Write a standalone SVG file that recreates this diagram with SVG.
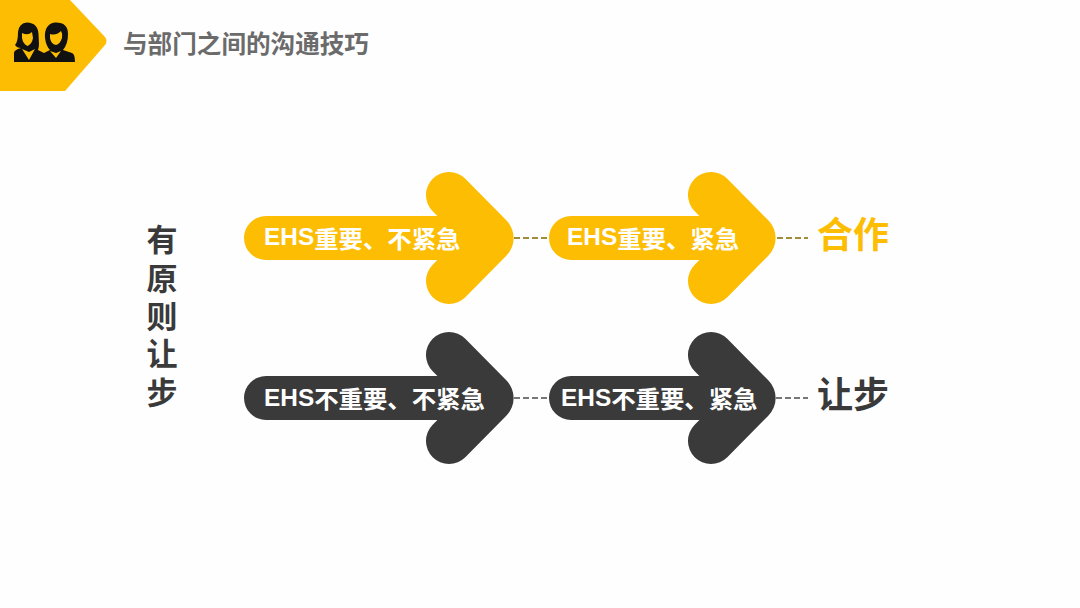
<svg xmlns="http://www.w3.org/2000/svg" width="1080" height="608" viewBox="0 0 1080 608">
<style>
text{font-family:"Liberation Sans","Noto Sans CJK SC",sans-serif;font-weight:700}
.cjk{font-family:"Noto Sans CJK SC",sans-serif;font-weight:700}
.lbl{font-size:24.4px;fill:#fff;text-anchor:start;dominant-baseline:central}
.big{font-size:36px;text-anchor:middle;dominant-baseline:central}
.side{font-size:31px;fill:#3a3a3a;text-anchor:middle;dominant-baseline:central}
.y{fill:#fdbd02}.d{fill:#3a3a3a}
.conn{stroke-width:2;stroke-dasharray:6 3;fill:none}
</style>
<defs>
<path id="long" d="M266 216H437.4L432.7 211.3A23 23 0 0 1 465.3 178.7L506.3 220.3A25 25 0 0 1 506.3 255.7L465.3 297.3A23 23 0 0 1 432.7 264.7L437.4 260H266A22 22 0 0 1 266 216Z"/>
<path id="short" d="M571 216H699.4L694.7 211.3A23 23 0 0 1 727.3 178.7L768.3 220.3A25 25 0 0 1 768.3 255.7L727.3 297.3A23 23 0 0 1 694.7 264.7L699.4 260H571A22 22 0 0 1 571 216Z"/>
</defs>
<rect width="1080" height="608" fill="#fefefe"/>
<g id="header">
<path class="y" d="M0 0H70L105 37Q108 41 105 45L65 91H0Z"/>
<g id="icon">
<path fill="#111" d="M27 22.500Q38 23 38.500 34L39 44Q39 47 38 50L44 53L46 52L50 50Q46 46 45 38Q44 24 55 22.500Q68 22 68 34Q68 44 63 50L72 53Q75 54 75 62H14V53Q14 50 21 48Q17 48 15 45Q18 42 18 32Q19 23 27 22.500Z"/>
<path class="y" d="M22 33Q28 36 32 32L33 38Q32 44 27.500 46Q23 44 22 38Z"/>
<path class="y" d="M50 34Q56 36 61 31Q63 34 62 38Q60 44 56 45Q51 44 50 38Z"/>
<path class="y" d="M22 49L29 60L35 49L29 52Z"/>
<path class="y" d="M50 51L56 58L61 51L56 53Z"/>
</g>
<text x="123" y="41.500" class="cjk" font-size="24.600" fill="#6b6b6b" dominant-baseline="central">与部门之间的沟通技巧</text>
</g>
<g id="connectors">
<path class="conn" stroke="#a08c3a" d="M514 238H549M777 238H808"/>
<path class="conn" stroke="#777" d="M514 398H549M776 398H808"/>
</g>
<g id="node-a1"><use href="#long" class="y"/><text x="264" y="236.500" class="lbl">EHS<tspan class="cjk">重要、不紧急</tspan></text></g>
<g id="node-a2"><use href="#short" class="y"/><text x="567" y="236.500" class="lbl">EHS<tspan class="cjk">重要、紧急</tspan></text></g>
<g id="node-b1"><use href="#long" y="160" class="d"/><text x="264" y="397" class="lbl">EHS<tspan class="cjk">不重要、不紧急</tspan></text></g>
<g id="node-b2"><use href="#short" y="160" class="d"/><text x="561" y="397" class="lbl">EHS<tspan class="cjk">不重要、紧急</tspan></text></g>
<g id="result-a"><text x="853" y="232" class="big cjk y">合作</text></g>
<g id="result-b"><text x="853" y="392" class="big cjk d">让步</text></g>
<g id="side">
<text class="side cjk"><tspan x="162" y="237">有</tspan><tspan x="162" y="275.500">原</tspan><tspan x="162" y="314">则</tspan><tspan x="162" y="351">让</tspan><tspan x="162" y="389.500">步</tspan></text>
</g>
</svg>
